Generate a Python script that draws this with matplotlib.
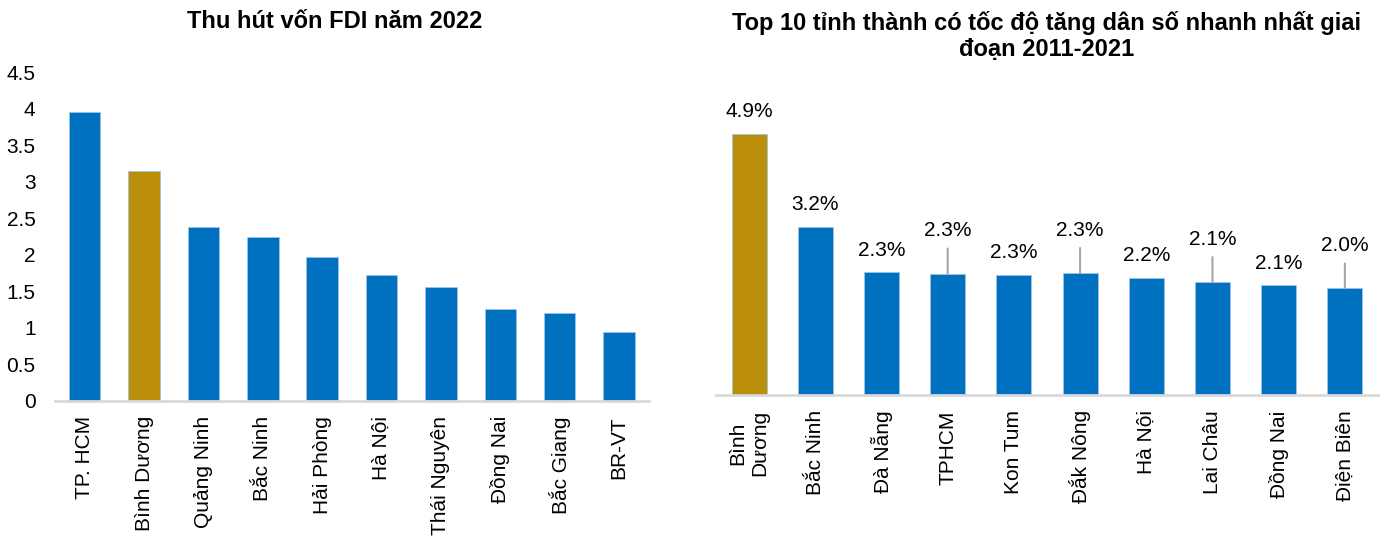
import numpy as np
import matplotlib.pyplot as plt

plt.rcParams['font.family'] = ['Liberation Sans', 'DejaVu Sans']

# ------------------ data ------------------
fdi_provinces = ["TP. HCM", "Bình Dương", "Quảng Ninh", "Bắc Ninh", "Hải Phòng",
                 "Hà Nội", "Thái Nguyên", "Đồng Nai", "Bắc Giang", "BR-VT"]
fdi_values = [3.95, 3.15, 2.38, 2.25, 1.97, 1.72, 1.56, 1.26, 1.21, 0.95]

pop_provinces = ["Bình\nDương", "Bắc Ninh", "Đà Nẵng", "TPHCM", "Kon Tum",
                 "Đắk Nông", "Hà Nội", "Lai Châu", "Đồng Nai", "Điện Biên"]
pop_growth = [4.9, 3.16, 2.3, 2.28, 2.26, 2.29, 2.2, 2.12, 2.06, 2.0]

BLUE = "#0070C0"
GOLD = "#BA8E0A"
AXIS_GREY = "#D9D9D9"
highlight = "Bình Dương"

fig = plt.figure(figsize=(13.87, 5.4), dpi=100)

# ------------------ left: FDI ------------------
ax1 = fig.add_axes([0.0397, 0.2575, 0.428, 0.609])
x1 = np.arange(len(fdi_provinces))
colors1 = [GOLD if p == highlight else BLUE for p in fdi_provinces]
ax1.bar(x1, fdi_values, width=0.53, color=colors1, edgecolor="#9DC3E6", linewidth=0.6)
ax1.set_xlim(-0.5, len(x1) - 0.5)
ax1.set_ylim(0, 4.5)
ax1.set_yticks(np.arange(0, 4.51, 0.5))
ax1.set_yticklabels(["0", "0.5", "1", "1.5", "2", "2.5", "3", "3.5", "4", "4.5"])
ax1.set_xticks(x1)
ax1.set_xticklabels(fdi_provinces, rotation=90)
ax1.tick_params(axis="y", length=0, pad=14, labelsize=15)
ax1.tick_params(axis="x", length=0, pad=11, labelsize=15)
for s in ["top", "right", "left"]:
    ax1.spines[s].set_visible(False)
ax1.spines["bottom"].set_color(AXIS_GREY)
ax1.spines["bottom"].set_linewidth(2)
fig.text(335 / 1387, 1 - 22 / 540, "Thu hút vốn FDI năm 2022",
         ha="center", va="center", fontsize=17, fontweight="bold")

# ------------------ right: population growth ------------------
ax2 = fig.add_axes([0.5162, 0.2685, 0.4773, 0.5426])
x2 = np.arange(len(pop_provinces))
colors2 = [GOLD if p.replace("\n", " ") == highlight else BLUE for p in pop_provinces]
ax2.bar(x2, pop_growth, width=0.53, color=colors2, edgecolor="#9DC3E6", linewidth=0.6)
ax2.set_xlim(-0.5, len(x2) - 0.5)
ax2.set_ylim(0, 5.5)
ax2.set_yticks([])
ax2.set_xticks(x2)
ax2.set_xticklabels(pop_provinces, rotation=90, multialignment="center")
ax2.tick_params(axis="x", length=0, pad=11, labelsize=15)
for s in ["top", "right", "left"]:
    ax2.spines[s].set_visible(False)
ax2.spines["bottom"].set_color(AXIS_GREY)
ax2.spines["bottom"].set_linewidth(2)

raised = [False, False, False, True, False, True, False, True, False, True]
for i, v in enumerate(pop_growth):
    if raised[i]:
        ax2.annotate(f"{v:.1f}%", xy=(i, v), xytext=(0, 24), textcoords="offset points",
                     ha="center", va="bottom", fontsize=15,
                     arrowprops=dict(arrowstyle="-", color="#A6A6A6", lw=1.5,
                                     shrinkA=4, shrinkB=0))
    else:
        ax2.annotate(f"{v:.1f}%", xy=(i, v), xytext=(0, 9), textcoords="offset points",
                     ha="center", va="bottom", fontsize=15)

fig.text(1047 / 1387, 1 - 36 / 540,
         "Top 10 tỉnh thành có tốc độ tăng dân số nhanh nhất giai\nđoạn 2011-2021",
         ha="center", va="center", fontsize=17, fontweight="bold", linespacing=1.2)

fig.savefig("out.png", dpi=100)
